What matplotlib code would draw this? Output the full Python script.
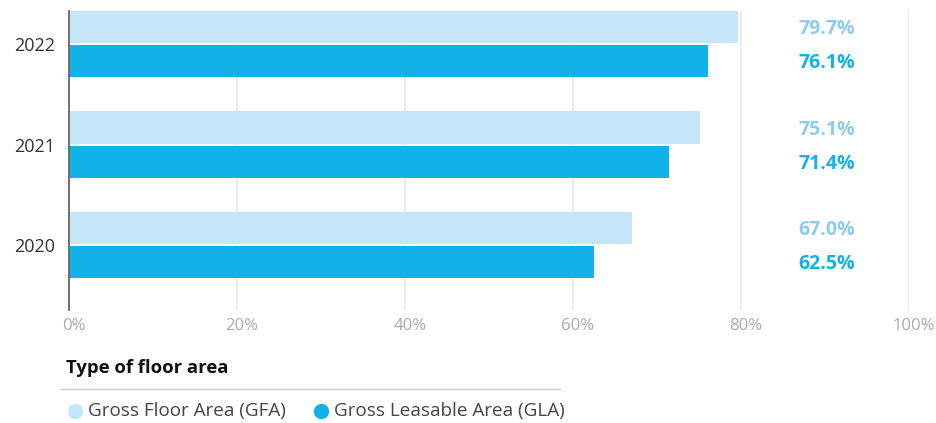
import numpy as np
import matplotlib.pyplot as plt
import matplotlib.transforms as mtransforms
from matplotlib.lines import Line2D

plt.rcParams['font.family'] = ['Open Sans', 'DejaVu Sans']

years = ['2022', '2021', '2020']
gfa = [79.7, 75.1, 67.0]
gla = [76.1, 71.4, 62.5]
xticks = [0, 20, 40, 60, 80, 100]
xtick_labels = ['0%', '20%', '40%', '60%', '80%', '100%']
series_names = ['Gross Floor Area (GFA)', 'Gross Leasable Area (GLA)']
legend_title = 'Type of floor area'

light = '#c5e6f8'
dark = '#12b1e7'
light_txt = '#8fcbee'

fig = plt.figure(figsize=(9.37, 4.23), dpi=100)
ax = fig.add_axes([69/937, 1-310/423, 840/937, 299/423])

y = np.array([2, 1, 0])
h = 0.32
off = 0.17
ax.barh(y + off, gfa, height=h, color=light, zorder=2)
ax.barh(y - off, gla, height=h, color=dark, zorder=2)

shift = mtransforms.ScaledTranslation(0, -2/100, fig.dpi_scale_trans)
for yi, a, b in zip(y, gfa, gla):
    ax.text(93.6, yi + off, f'{a:.1f}%', ha='right', va='center',
            color=light_txt, fontsize=14, fontweight='bold',
            transform=ax.transData + shift)
    ax.text(93.6, yi - off, f'{b:.1f}%', ha='right', va='center',
            color=dark, fontsize=14, fontweight='bold',
            transform=ax.transData + shift)

ax.set_xlim(0, 100)
ax.set_ylim(-0.647, 2.33)
ax.set_xticks(xticks)
ax.set_xticklabels(xtick_labels, color='#aaaaaa', fontsize=12)
ax.set_yticks(y)
ax.set_yticklabels(years, color='#333333', fontsize=13)
ax.tick_params(axis='both', length=0)
ax.tick_params(axis='x', pad=6)
ax.tick_params(axis='y', pad=10)
xshift = mtransforms.ScaledTranslation(5/100, 0, fig.dpi_scale_trans)
for lab in ax.get_xticklabels():
    lab.set_transform(lab.get_transform() + xshift)
ax.grid(axis='x', color='#e8e8e8', lw=1.2, zorder=0)
for s in ['top', 'right', 'bottom']:
    ax.spines[s].set_visible(False)
ax.spines['left'].set_color('#666666')
ax.spines['left'].set_linewidth(1.3)
ax.spines['left'].set_zorder(3)

# legend block
fig.text(66/937, 1-368/423, legend_title, fontsize=13.3, fontweight='bold',
         color='#111111', va='center', ha='left')
fig.add_artist(Line2D([60/937, 560/937], [1-389/423, 1-389/423],
                      color='#cccccc', lw=1))
for cx, tx, col, name in [(75, 88, light, series_names[0]),
                          (321, 334, dark, series_names[1])]:
    fig.add_artist(Line2D([cx/937], [1-411/423], marker='o', markersize=10,
                          color=col, lw=0))
    fig.text(tx/937, 1-411/423, name, fontsize=13.6, color='#444444',
             va='center', ha='left')

fig.savefig('out.png', dpi=100)
